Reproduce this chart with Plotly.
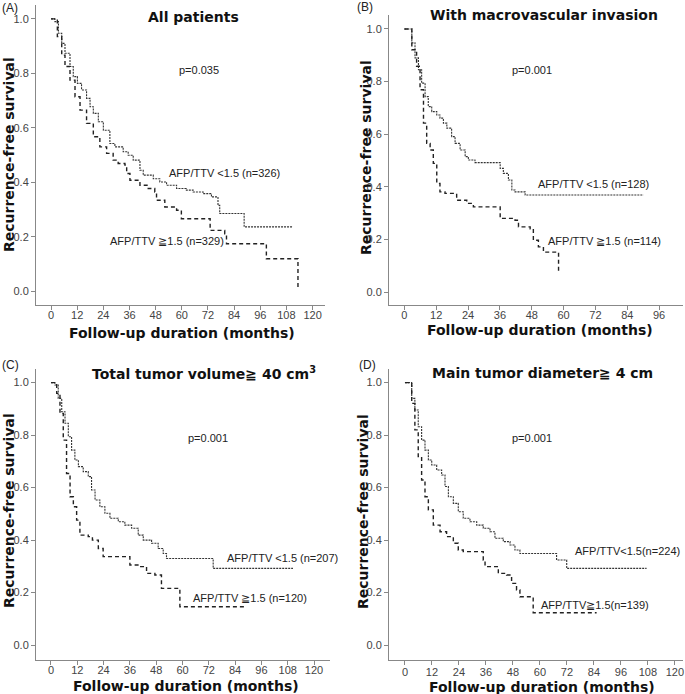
import plotly.graph_objects as go

W, H = 685, 694

# ---------------- data (months, survival) ----------------
a_low_t = [0, 1.1, 1.8, 3.4, 4.9, 6.4, 8.7, 10.2, 12.1, 14.0, 16.3, 17.9, 19.4, 21.7, 24.0, 27.0, 29.3, 33.1, 35.4, 37.7, 40.8, 42.3, 46.9, 49.9, 53.0, 57.6, 62.1, 65.2, 69.8, 73.6, 76.6, 77.4, 88.6, 111]
a_low_s = [1.0, 1.0, 0.99, 0.947, 0.910, 0.874, 0.825, 0.788, 0.763, 0.739, 0.708, 0.677, 0.653, 0.622, 0.591, 0.542, 0.530, 0.512, 0.499, 0.481, 0.444, 0.426, 0.413, 0.401, 0.389, 0.377, 0.371, 0.364, 0.358, 0.346, 0.315, 0.285, 0.236, 0.236]
a_high_t = [0, 1.5, 2.9, 4.9, 6.4, 8.7, 11.0, 13.3, 16.3, 19.4, 22.4, 25.5, 28.5, 30.8, 33.9, 34.7, 36.2, 40.8, 44.6, 47.6, 48.4, 52.2, 57.6, 59.8, 73.0, 79.7, 80.5, 98.8, 113.3, 113.3]
a_high_s = [1.0, 1.0, 0.935, 0.867, 0.825, 0.775, 0.714, 0.665, 0.616, 0.567, 0.530, 0.506, 0.481, 0.469, 0.463, 0.432, 0.407, 0.389, 0.377, 0.364, 0.334, 0.309, 0.297, 0.266, 0.223, 0.211, 0.174, 0.119, 0.119, 0.009]

b_low_t = [0, 2.1, 2.8, 4.0, 5.3, 6.5, 7.8, 9.0, 10.3, 12.2, 13.4, 14.7, 16.0, 17.8, 19.1, 21.0, 22.9, 24.1, 26.6, 36.1, 37.3, 39.2, 40.5, 41.7, 45.5, 90.1]
b_low_s = [1.0, 1.0, 0.947, 0.89, 0.845, 0.794, 0.743, 0.705, 0.686, 0.673, 0.661, 0.642, 0.623, 0.591, 0.565, 0.540, 0.515, 0.502, 0.492, 0.470, 0.451, 0.426, 0.388, 0.381, 0.369, 0.369]
b_high_t = [0, 1.5, 2.8, 4.6, 5.9, 7.2, 8.4, 9.7, 10.9, 12.2, 13.4, 15.3, 19.7, 23.5, 26.0, 36.1, 41.7, 43.0, 47.4, 48.6, 50.5, 52.4, 58.1, 58.1]
b_high_s = [1.0, 1.0, 0.921, 0.858, 0.769, 0.642, 0.565, 0.540, 0.489, 0.413, 0.381, 0.375, 0.349, 0.337, 0.324, 0.280, 0.273, 0.248, 0.241, 0.197, 0.172, 0.152, 0.152, 0.070]

c_low_t = [0, 1.1, 1.8, 3.3, 4.9, 6.4, 7.9, 9.4, 10.9, 12.5, 14.7, 17.0, 18.5, 20.1, 22.3, 24.6, 26.9, 30.7, 33.7, 36.8, 39.8, 42.1, 45.9, 48.9, 51.2, 52.7, 74.0, 110.4]
c_low_s = [1.0, 1.0, 0.991, 0.940, 0.889, 0.845, 0.794, 0.743, 0.705, 0.680, 0.661, 0.642, 0.591, 0.553, 0.527, 0.502, 0.483, 0.470, 0.457, 0.445, 0.419, 0.400, 0.388, 0.368, 0.349, 0.330, 0.292, 0.292]
c_high_t = [0, 1.1, 2.6, 4.1, 5.6, 7.1, 8.7, 10.2, 11.7, 13.2, 17.0, 18.9, 21.6, 23.8, 36.0, 40.6, 43.6, 47.4, 50.4, 58.8, 88.4]
c_high_s = [1.0, 1.0, 0.959, 0.883, 0.781, 0.654, 0.565, 0.527, 0.476, 0.419, 0.413, 0.400, 0.368, 0.337, 0.305, 0.299, 0.273, 0.267, 0.216, 0.146, 0.146]

d_low_t = [0, 1.5, 3.0, 4.4, 5.9, 7.4, 8.9, 10.4, 11.9, 14.1, 16.3, 17.8, 19.3, 21.5, 23.7, 25.9, 28.9, 31.9, 34.8, 37.8, 40.0, 43.7, 46.7, 48.9, 51.1, 67.4, 71.9, 107.4]
d_low_s = [1.0, 1.0, 0.940, 0.896, 0.832, 0.781, 0.743, 0.705, 0.686, 0.667, 0.648, 0.604, 0.565, 0.540, 0.508, 0.483, 0.470, 0.457, 0.445, 0.432, 0.407, 0.394, 0.381, 0.362, 0.349, 0.324, 0.292, 0.292]
d_high_t = [0, 1.5, 3.0, 4.4, 5.9, 7.4, 8.9, 10.4, 12.6, 15.6, 18.5, 21.5, 23.7, 25.9, 34.8, 35.6, 41.5, 45.2, 47.4, 49.6, 51.1, 57.0, 85.2]
d_high_s = [1.0, 1.0, 0.921, 0.820, 0.718, 0.629, 0.565, 0.515, 0.457, 0.432, 0.413, 0.388, 0.362, 0.356, 0.324, 0.299, 0.273, 0.267, 0.235, 0.210, 0.184, 0.123, 0.123]

titles = ["All patients", "With macrovascular invasion",
          "Total tumor volume\u2267 40 cm<sup>3</sup>", "Main tumor diameter\u2267 4 cm"]
panel_tags = ["(A)", "(B)", "(C)", "(D)"]
p_values = ["p=0.035", "p=0.001", "p=0.001", "p=0.001"]
low_labels = ["AFP/TTV <1.5 (n=326)", "AFP/TTV <1.5 (n=128)", "AFP/TTV <1.5 (n=207)", "AFP/TTV<1.5(n=224)"]
high_labels = ["AFP/TTV \u22671.5 (n=329)", "AFP/TTV \u22671.5 (n=114)", "AFP/TTV \u22671.5 (n=120)", "AFP/TTV\u22671.5(n=139)"]
x_ticks = [list(range(0, 121, 12)), list(range(0, 97, 12)), list(range(0, 121, 12)), list(range(0, 121, 12))]
y_ticks = [0, 0.2, 0.4, 0.6, 0.8, 1.0]

series = [(a_low_t, a_low_s, a_high_t, a_high_s),
          (b_low_t, b_low_s, b_high_t, b_high_s),
          (c_low_t, c_low_s, c_high_t, c_high_s),
          (d_low_t, d_low_s, d_high_t, d_high_s)]

# ---------------- layout geometry (pixels) ----------------
geo = [
    dict(xpx=(36, 325), xr=(-6.9, 125.7), ypx=(5, 305), yr=(-0.051, 1.051), xstand=-4),
    dict(xpx=(389, 683), xr=(-5.8, 105.0), ypx=(15, 305), yr=(-0.049, 1.053), xstand=-4),
    dict(xpx=(36, 330), xr=(-6.84, 127.3), ypx=(369, 660), yr=(-0.057, 1.052), xstand=-4),
    dict(xpx=(389, 683), xr=(-7.1, 123.6), ypx=(369, 660), yr=(-0.057, 1.052), xstand=-2),
]

def px(x):
    return x / W

def py(y):
    return 1 - y / H

fig = go.Figure()
ann = []
tick_font = dict(family="Liberation Sans, Arial, sans-serif", size=11, color="#444")
bold_font = dict(family="DejaVu Sans, Verdana, sans-serif", size=14, color="#111")

for i, g in enumerate(geo):
    n = "" if i == 0 else str(i + 1)
    xa, ya = "x" + n, "y" + n
    lt, ls, ht, hs = series[i]
    fig.add_trace(go.Scatter(x=lt, y=ls, mode="lines", line_shape="hv", xaxis=xa, yaxis=ya,
                             line=dict(color="#333", width=1.1, dash="2px,1px"), showlegend=False,
                             hoverinfo="skip"))
    fig.add_trace(go.Scatter(x=ht, y=hs, mode="lines", line_shape="hv", xaxis=xa, yaxis=ya,
                             line=dict(color="#222", width=1.4, dash="4px,3px"), showlegend=False,
                             hoverinfo="skip"))
    axcommon = dict(showgrid=False, zeroline=False, showline=True, linecolor="#888", linewidth=1,
                    ticks="outside", ticklen=4, tickcolor="#888", tickfont=tick_font)
    fig.update_layout(**{
        ("xaxis" + n): dict(domain=[px(g["xpx"][0]), px(g["xpx"][1])], range=list(g["xr"]),
                           anchor=ya, tickvals=x_ticks[i], ticklabelstandoff=g["xstand"], **axcommon),
        ("yaxis" + n): dict(domain=[py(g["ypx"][1]), py(g["ypx"][0])], range=list(g["yr"]),
                           anchor=xa, tickvals=y_ticks, tickformat=".1f", **axcommon),
    })

title_pos = [(193, 17), (544, 15), (204, 373), (542, 373)]
tag_pos = [(0, 8), (355, 7), (0, 365), (357, 365)]
p_pos = [(199, 70), (532, 70), (208, 438), (532, 438)]
ylab_pos = [(9, 155), (366, 157), (9, 511), (363, 512)]
xlab_pos = [(182, 333), (540, 330), (186, 686), (542, 687)]
low_pos = [(167, 173), (536, 184), (225, 558), (573, 551)]
high_pos = [(108, 241), (546, 241), (191, 598), (539, 605)]

label_font = dict(family="Liberation Sans, Arial, sans-serif", size=11, color="#222")
for i in range(4):
    ann.append(dict(x=px(title_pos[i][0]), y=py(title_pos[i][1]), xref="paper", yref="paper",
                    text="<b>" + titles[i] + "</b>", showarrow=False, font=bold_font,
                    xanchor="center", yanchor="middle"))
    ann.append(dict(x=px(tag_pos[i][0]), y=py(tag_pos[i][1]), xref="paper", yref="paper",
                    text=panel_tags[i], showarrow=False,
                    font=dict(family="Liberation Sans, Arial, sans-serif", size=12, color="#222"),
                    xanchor="left", yanchor="middle"))
    ann.append(dict(x=px(p_pos[i][0]), y=py(p_pos[i][1]), xref="paper", yref="paper",
                    text=p_values[i], showarrow=False, font=label_font,
                    xanchor="center", yanchor="middle"))
    ann.append(dict(x=px(ylab_pos[i][0]), y=py(ylab_pos[i][1]), xref="paper", yref="paper",
                    text="<b>Recurrence-free survival</b>", showarrow=False, font=bold_font,
                    textangle=-90, xanchor="center", yanchor="middle"))
    ann.append(dict(x=px(xlab_pos[i][0]), y=py(xlab_pos[i][1]), xref="paper", yref="paper",
                    text="<b>Follow-up duration (months)</b>", showarrow=False, font=bold_font,
                    xanchor="center", yanchor="middle"))
    ann.append(dict(x=px(low_pos[i][0]), y=py(low_pos[i][1]), xref="paper", yref="paper",
                    text=low_labels[i], showarrow=False, font=label_font,
                    xanchor="left", yanchor="middle"))
    ann.append(dict(x=px(high_pos[i][0]), y=py(high_pos[i][1]), xref="paper", yref="paper",
                    text=high_labels[i], showarrow=False, font=label_font,
                    xanchor="left", yanchor="middle"))

fig.update_layout(width=W, height=H, margin=dict(l=0, r=0, t=0, b=0),
                  paper_bgcolor="white", plot_bgcolor="white", annotations=ann,
                  hovermode=False)

fig.write_html("out.html", config={"displayModeBar": False},
               post_script="document.body.style.margin='0';document.body.style.overflow='hidden';")
